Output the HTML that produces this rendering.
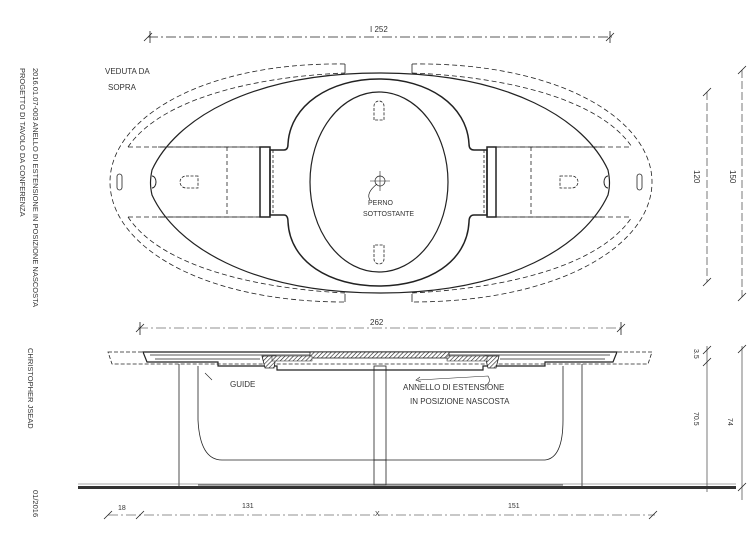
<!DOCTYPE html>
<html><head><meta charset="utf-8"><style>
html,body{margin:0;padding:0;background:#fff;}
svg{display:block;}
text{font-family:"Liberation Sans",sans-serif;fill:#333;}
</style></head><body>
<svg width="750" height="543" viewBox="0 0 750 543" xmlns="http://www.w3.org/2000/svg">
<defs>
<pattern id="h" width="3" height="3" patternUnits="userSpaceOnUse" patternTransform="rotate(45)">
<rect width="3" height="3" fill="#fff"/><line x1="0" y1="0" x2="0" y2="3" stroke="#222" stroke-width="1.2"/></pattern>
</defs>
<g fill="none" stroke="#222" stroke-width="1">
<!-- top dimension -->
<line x1="148" y1="37" x2="612" y2="37" stroke-dasharray="10 3 2 3" stroke-width="0.7"/>
<path d="M144 41 L152 33 M150 31 L150 43 M606 41 L614 33 M610 31 L610 43" stroke-width="0.8"/>
<!-- outer dashed -->
<path d="M345 64 L345 73 M412 64 L412 73" stroke-width="0.8"/>
<path d="M345 64 C200 62 110 120 110 182 C110 245 200 302 345 302 M412 64 C560 62 652 120 652 182 C652 245 560 302 412 302" stroke-dasharray="5 3" stroke-width="0.8"/>
<path d="M345 294 L345 302 M412 294 L412 302" stroke-width="0.8"/>
<path d="M128 147 C160 100 250 77 345 73 M412 73 C510 77 600 100 632 147 M128 217 C160 265 250 288 345 293 M412 293 C510 288 600 265 632 217" stroke-dasharray="5 3" stroke-width="0.8"/>
<line x1="128" y1="147" x2="260" y2="147" stroke-dasharray="5 3" stroke-width="0.8"/>
<line x1="496" y1="147" x2="632" y2="147" stroke-dasharray="5 3" stroke-width="0.8"/>
<line x1="128" y1="217" x2="260" y2="217" stroke-dasharray="5 3" stroke-width="0.8"/>
<line x1="496" y1="217" x2="632" y2="217" stroke-dasharray="5 3" stroke-width="0.8"/>
<!-- inner solid lens -->
<path d="M380 73 C250 73 175 120 152 170 C150 180 150 186 152 195 C175 245 250 293 380 293 C510 293 585 245 608 195 C610 186 610 180 608 170 C585 120 510 73 380 73 Z" stroke-width="1.2"/>
<path d="M152 176 a4 6 0 0 1 0 12 M608 176 a4 6 0 0 0 0 12" stroke-width="1"/>
<line x1="158" y1="147" x2="260" y2="147" stroke-width="0.8"/>
<line x1="496" y1="147" x2="602" y2="147" stroke-width="0.8"/>
<line x1="158" y1="217" x2="260" y2="217" stroke-width="0.8"/>
<line x1="496" y1="217" x2="602" y2="217" stroke-width="0.8"/>
<line x1="227" y1="147" x2="227" y2="217" stroke-dasharray="4 3" stroke-width="0.8"/>
<line x1="531" y1="147" x2="531" y2="217" stroke-dasharray="4 3" stroke-width="0.8"/>
<!-- central ring -->
<path d="M270 150 L284 150 Q288 150 288 144 C290 105 330 79 379 79 C428 79 467 105 469 144 Q469 150 474 150 L487 150 L487 215 L474 215 Q469 215 469 222 C467 262 428 286 379 286 C330 286 290 262 288 222 Q288 215 284 215 L270 215 Z" stroke-width="1.5"/>
<rect x="260" y="147" width="10" height="70" stroke-width="1.5"/>
<rect x="487" y="147" width="9" height="70" stroke-width="1.5"/>
<line x1="273" y1="150" x2="273" y2="215" stroke-dasharray="3 2" stroke-width="0.8"/>
<line x1="484" y1="150" x2="484" y2="215" stroke-dasharray="3 2" stroke-width="0.8"/>
<ellipse cx="379" cy="182" rx="69" ry="90" stroke-width="1.2"/>
<!-- slots -->
<path d="M374 120 L374 106 a5 5 0 0 1 10 0 L384 120 Z" stroke-dasharray="3 1.5" stroke-width="0.8"/>
<path d="M374 245 L374 259 a5 5 0 0 0 10 0 L384 245 Z" stroke-dasharray="3 1.5" stroke-width="0.8"/>
<path d="M198 176 L186 176 a6 6 0 0 0 0 12 L198 188 Z" stroke-dasharray="3 1.5" stroke-width="0.8"/>
<path d="M560 176 L572 176 a6 6 0 0 1 0 12 L560 188 Z" stroke-dasharray="3 1.5" stroke-width="0.8"/>
<rect x="117" y="174" width="5" height="16" rx="2.5" stroke-width="0.8"/>
<rect x="637" y="174" width="5" height="16" rx="2.5" stroke-width="0.8"/>
<!-- pin -->
<circle cx="380" cy="181" r="5" stroke-width="0.7"/>
<path d="M370 181 L390 181 M380 171 L380 191" stroke-width="0.6"/>
<path d="M370 200 C366 194 372 188 377 184" stroke-width="0.7"/>
<!-- right dims top -->
<line x1="707" y1="92" x2="707" y2="282" stroke-dasharray="8 3" stroke-width="0.6"/>
<line x1="742" y1="70" x2="742" y2="297" stroke-dasharray="8 3" stroke-width="0.6"/>
<path d="M703 96 L711 88 M703 286 L711 278 M738 74 L746 66 M738 301 L746 293" stroke-width="0.8"/>

<!-- side view -->
<line x1="138" y1="328" x2="623" y2="328" stroke-dasharray="10 3 2 3" stroke-width="0.6"/>
<path d="M136 332 L144 324 M140 322 L140 335 M617 332 L625 324 M621 322 L621 335" stroke-width="0.8"/>
<path d="M108 352 L652 352 L648 364 L112 364 Z" stroke-dasharray="4 2" stroke-width="0.8"/>
<path d="M143 352 L617 352 L613 362 L545 362 L545 366 L483 366 L483 370 L277 370 L277 366 L218 366 L218 362 L147 362 Z" stroke-width="1.2"/>
<path d="M150 355 L610 355 M155 359 L260 359 M500 359 L605 359" stroke-width="0.7"/>
<rect x="310" y="352" width="139" height="6" fill="url(#h)" stroke-width="0.8"/>
<path d="M262 356 L276 356 L274 368 L265 368 Z" fill="url(#h)" stroke-width="0.8"/>
<path d="M485 356 L499 356 L496 368 L488 368 Z" fill="url(#h)" stroke-width="0.8"/>
<rect x="272" y="356" width="40" height="5" fill="url(#h)" stroke-width="0.5"/>
<rect x="447" y="356" width="40" height="5" fill="url(#h)" stroke-width="0.5"/>
<line x1="179" y1="364" x2="179" y2="487" stroke-width="0.8"/>
<line x1="582" y1="364" x2="582" y2="487" stroke-width="0.8"/>
<path d="M198 366 L198 420 Q200 460 222 460 L545 460 Q563 458 563 420 L563 366" stroke-width="0.8"/>
<rect x="374" y="366" width="12" height="119" stroke-width="0.8"/>
<line x1="374" y1="460" x2="386" y2="460" stroke-width="0.8"/>
<line x1="198" y1="485" x2="563" y2="485" stroke-width="0.8"/>
<path d="M205 373 L212 380" stroke-width="0.6"/>
<path d="M485 386 Q492 382 488 376 L418 380" stroke-width="0.6"/>
<path d="M420 377 L416 380 L421 382" stroke-width="0.6"/>
<line x1="707" y1="346" x2="707" y2="492" stroke-width="0.6"/>
<line x1="742" y1="346" x2="742" y2="500" stroke-width="0.6"/>
<path d="M703 354 L711 346 M703 366 L711 358 M738 353 L746 345 M738 491 L746 483" stroke-width="0.8"/>
<line x1="108" y1="515" x2="655" y2="515" stroke-dasharray="10 3 2 3" stroke-width="0.6"/>
<path d="M104 519 L112 511 M136 519 L144 511 M649 519 L657 511" stroke-width="0.8"/>
</g>
<rect x="78" y="486" width="658" height="3" fill="#333"/>
<line x1="78" y1="484" x2="736" y2="484" stroke="#555" stroke-width="0.6"/>
<g font-size="8">
<text x="370" y="32">I 252</text>
<text x="105" y="74">VEDUTA DA</text>
<text x="108" y="90">SOPRA</text>
<text x="368" y="205" font-size="7">PERNO</text>
<text x="363" y="216" font-size="7">SOTTOSTANTE</text>
<text x="370" y="325">262</text>
<text x="230" y="387">GUIDE</text>
<text x="403" y="390">ANNELLO DI ESTENSIONE</text>
<text x="410" y="404">IN POSIZIONE NASCOSTA</text>
<text x="118" y="510" font-size="7">18</text>
<text x="242" y="508" font-size="7">131</text>
<text x="508" y="508" font-size="7">151</text>
<text x="375" y="516" font-size="7">X</text>
<text transform="translate(694,170) rotate(90)">120</text>
<text transform="translate(730,170) rotate(90)">150</text>
<text transform="translate(694,349) rotate(90)" font-size="7">3.5</text>
<text transform="translate(694,412) rotate(90)" font-size="7">70.5</text>
<text transform="translate(728,418) rotate(90)" font-size="7">74</text>
<text transform="translate(33,68) rotate(90)" font-size="7.5">2016.01.07-003    ANELLO DI ESTENSIONE   IN POSIZIONE   NASCOSTA</text>
<text transform="translate(20,68) rotate(90)" font-size="7.5">PROGETTO  DI  TAVOLO  DA  CONFERENZA</text>
<text transform="translate(28,348) rotate(90)" font-size="7.5">CHRISTOPHER  JSEAD</text>
<text transform="translate(33,490) rotate(90)" font-size="7.5">01/2016</text>
</g>
</svg>
</body></html>
